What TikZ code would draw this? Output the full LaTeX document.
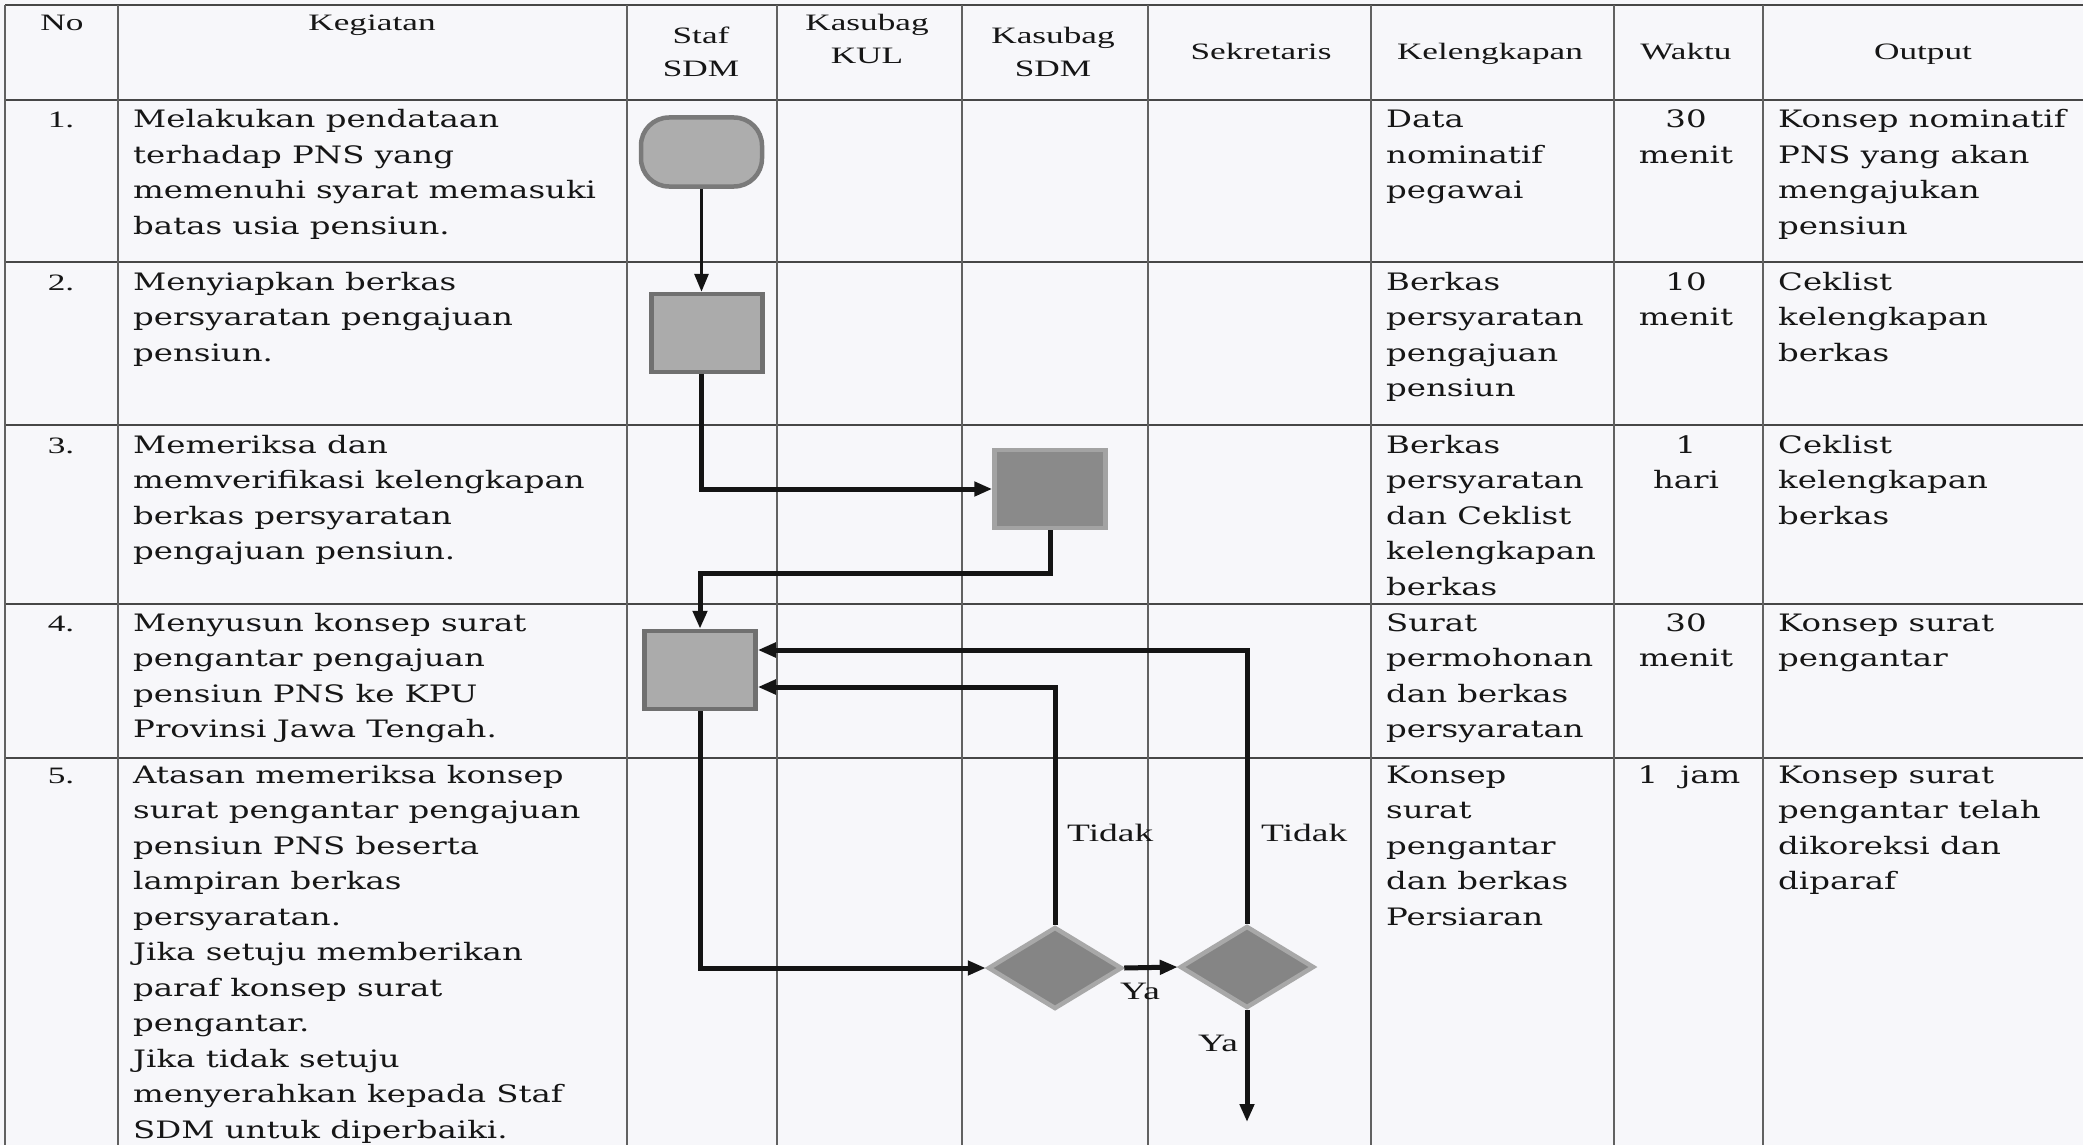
\documentclass[tikz,border=0pt]{standalone}
\usepackage{fontspec}
\setmainfont{DejaVu Serif}[FakeStretch=1.35]
\newfontfamily\hdfont{Liberation Serif}[FakeStretch=1.5]
\usetikzlibrary{shapes.geometric,arrows.meta,calc}
\definecolor{paper}{RGB}{247,247,250}
\definecolor{ink}{RGB}{22,22,22}
\newcommand\bodytxt{\fontsize{24}{35.5}\selectfont}
\newcommand\hdtxt{\hdfont\fontsize{23.5}{33}\selectfont}
\newcommand\lcell[1]{\begin{tabular}[t]{@{}l@{}}#1\end{tabular}}
\newcommand\ccell[1]{\begin{tabular}[t]{@{}c@{}}#1\end{tabular}}
\begin{document}
\begin{tikzpicture}[x=1pt,y=-1pt,
  gridh/.style={line width=2.4pt,draw=black!72},
  gridv/.style={line width=1.3pt,draw=black!62},
  txtl/.style={anchor=base west,inner sep=0,font=\bodytxt,text=ink},
  txtc/.style={anchor=base,inner sep=0,font=\bodytxt,text=ink},
  hd/.style={anchor=base,inner sep=0,font=\hdtxt,text=ink},
  lbl/.style={inner sep=0,font=\hdfont\fontsize{25}{30}\selectfont,text=ink},
  shp/.style={line width=4.5pt,inner sep=0},
  termbox/.style={shp,rounded corners=28pt,minimum width=121pt,minimum height=69pt,fill=black!32,draw=black!52},
  procbox/.style={shp,minimum width=111pt,minimum height=78pt,fill=black!33,draw=black!56},
  darkbox/.style={shp,minimum width=111pt,minimum height=78pt,fill=black!46,draw=black!36},
  decide/.style={shp,diamond,aspect=1.66,minimum width=134pt,minimum height=82pt,fill=black!48,draw=black!34},
  flow/.style={line width=5pt,draw=black!92,-{Triangle[length=18pt,width=14pt]}},
]
\fill[paper] (0,0) rectangle (2083,1145);
\useasboundingbox (0,0) rectangle (2083,1145);

% grid
\foreach \yy in {5,100,262,425,604,758} \draw[gridh] (5,\yy) -- (2083,\yy);
\foreach \xx in {5,118,627,777,962,1148,1371,1614,1763} \draw[gridv] (\xx,5) -- (\xx,1145);

% header
\node[hd] (hno) at (62,31) {No};
\node[hd] (hkeg) at (372,31) {Kegiatan};
\node[hd] (hstaf) at (701,44) {\ccell{Staf\\SDM}};
\node[hd] (hkul) at (867,31) {\ccell{Kasubag\\KUL}};
\node[hd] (hksdm) at (1053,44) {\ccell{Kasubag\\SDM}};
\node[hd] (hsek) at (1261,60) {Sekretaris};
\node[hd] (hkel) at (1490,60) {Kelengkapan};
\node[hd] (hwak) at (1686,60) {Waktu};
\node[hd] (hout) at (1923,60) {Output};

% numbers
\node[hd] (n1) at (61,128) {1.};
\node[hd] (n2) at (61,290) {2.};
\node[hd] (n3) at (61,453) {3.};
\node[hd] (n4) at (61,631) {4.};
\node[hd] (n5) at (61,783) {5.};

% kegiatan
\node[txtl] (k1) at (133,128) {\lcell{Melakukan pendataan\\terhadap PNS yang\\memenuhi syarat memasuki\\batas usia pensiun.}};
\node[txtl] (k2) at (133,290) {\lcell{Menyiapkan berkas\\persyaratan pengajuan\\pensiun.}};
\node[txtl] (k3) at (133,453) {\lcell{Memeriksa dan\\memverifikasi kelengkapan\\berkas persyaratan\\pengajuan pensiun.}};
\node[txtl] (k4) at (133,631) {\lcell{Menyusun konsep surat\\pengantar pengajuan\\pensiun PNS ke KPU\\Provinsi Jawa Tengah.}};
\node[txtl] (k5) at (133,783) {\lcell{Atasan memeriksa konsep\\surat pengantar pengajuan\\pensiun PNS beserta\\lampiran berkas\\persyaratan.\\Jika setuju memberikan\\paraf konsep surat\\pengantar.\\Jika tidak setuju\\menyerahkan kepada Staf\\SDM untuk diperbaiki.}};

% kelengkapan
\node[txtl] (l1) at (1386,128) {\lcell{Data\\nominatif\\pegawai}};
\node[txtl] (l2) at (1386,290) {\lcell{Berkas\\persyaratan\\pengajuan\\pensiun}};
\node[txtl] (l3) at (1386,453) {\lcell{Berkas\\persyaratan\\dan Ceklist\\kelengkapan\\berkas}};
\node[txtl] (l4) at (1386,631) {\lcell{Surat\\permohonan\\dan berkas\\persyaratan}};
\node[txtl] (l5) at (1386,783) {\lcell{Konsep\\surat\\pengantar\\dan berkas\\Persiaran}};

% waktu
\node[txtc] (w1) at (1686,128) {\ccell{30\\menit}};
\node[txtc] (w2) at (1686,290) {\ccell{10\\menit}};
\node[txtc] (w3) at (1686,453) {\ccell{1\\hari}};
\node[txtc] (w4) at (1686,631) {\ccell{30\\menit}};
\node[txtc] (w5) at (1689,783) {1\hspace{22pt}jam};

% output
\node[txtl] (o1) at (1778,128) {\lcell{Konsep nominatif\\PNS yang akan\\mengajukan\\pensiun}};
\node[txtl] (o2) at (1778,290) {\lcell{Ceklist\\kelengkapan\\berkas}};
\node[txtl] (o3) at (1778,453) {\lcell{Ceklist\\kelengkapan\\berkas}};
\node[txtl] (o4) at (1778,631) {\lcell{Konsep surat\\pengantar}};
\node[txtl] (o5) at (1778,783) {\lcell{Konsep surat\\pengantar telah\\dikoreksi dan\\diparaf}};

% flowchart
\node[termbox] (t1) at (701.5,152) {};
\node[procbox] (b2) at (707,333) {};
\node[darkbox] (b3) at (1050,489) {};
\node[procbox] (b4) at (700,670) {};
\node[decide] (d1) at (1055,968) {};
\node[decide] (d2) at (1247,967) {};
\coordinate (fin) at (1247,1122);

\draw[flow,line width=3pt] (t1.south) -- (t1.south |- b2.north);
\draw[flow] (b2.south -| t1.south) |- (b3.west);
\draw[flow] (b3.south) -- ++(0,43) -| (b4.north);
\draw[flow] (b4.south) |- (d1.west);
\draw[flow] (d1.north) |- ($(b4.east)+(0,17)$);
\draw[flow] (d2.north) |- ($(b4.east)+(0,-20)$);
\draw[flow] (d1.east) -- (d2.west);
\draw[flow] (d2.south) -- (fin);

\node[lbl,anchor=base west] (tdk1) at (1067,841) {Tidak};
\node[lbl,anchor=base west] (tdk2) at (1261,841) {Tidak};
\node[lbl,anchor=base] (ya1) at (1140,999) {Ya};
\node[lbl,anchor=base] (ya2) at (1218,1051) {Ya};
\end{tikzpicture}
\end{document}
